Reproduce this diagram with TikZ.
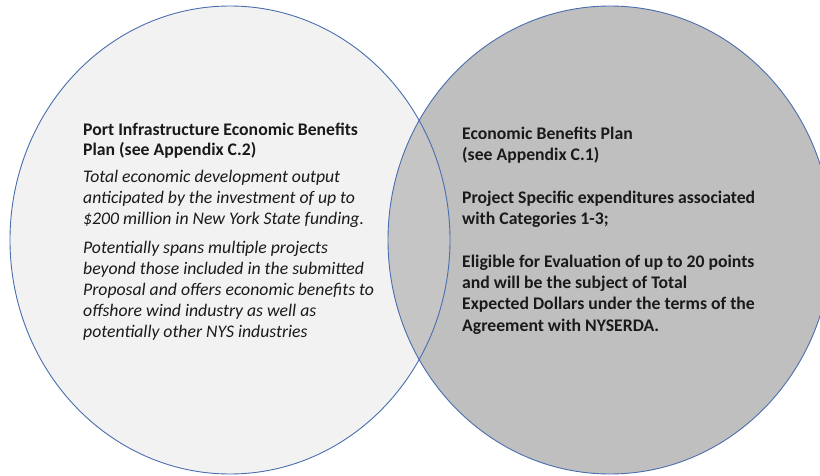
\documentclass[tikz,border=0pt]{standalone}
\usepackage{fontspec}
\setmainfont{Carlito}
\definecolor{edgeblue}{HTML}{4A6FAE}
\definecolor{leftfill}{HTML}{F2F2F2}
\definecolor{rightfill}{HTML}{BFBFBF}
\definecolor{overlapfill}{HTML}{C5C5C5}
\definecolor{txt}{HTML}{1A1A1A}
\tikzset{
  venn/.style={draw=edgeblue, line width=0.9pt},
  ln/.style={anchor=base west, inner sep=0pt, text=txt,
    font=\fontsize{17.7}{21}\selectfont},
  lb/.style={ln, font=\fontsize{17.7}{21}\selectfont\bfseries},
  li/.style={ln, font=\fontsize{17.7}{21}\selectfont\itshape},
}
\begin{document}
\begin{tikzpicture}[x=1pt,y=-1pt]
\useasboundingbox (0,0) rectangle (820,476);
\clip (0,0) rectangle (820,476);
\fill[white] (0,0) rectangle (820,476);
% circles
\fill[leftfill] (230,240) ellipse [x radius=220pt, y radius=234pt];
\fill[rightfill] (610,240) ellipse [x radius=222pt, y radius=234pt];
\begin{scope}
  \clip (230,240) ellipse [x radius=220pt, y radius=234pt];
  \fill[overlapfill] (610,240) ellipse [x radius=222pt, y radius=234pt];
\end{scope}
\draw[venn] (230,240) ellipse [x radius=220pt, y radius=234pt];
\draw[venn] (610,240) ellipse [x radius=222pt, y radius=234pt];
% left text
\node[lb] (lt1) at (83,136) {Port Infrastructure Economic Benefits};
\node[lb] (lt2) at (83,156) {Plan (see Appendix C.2)};
\node[li] (la1) at (83,183) {Total economic development output};
\node[li] (la2) at (83,204) {anticipated by the investment of up to};
\node[li] (la3) at (83,225) {\$200 million in New York State funding.};
\node[li] (lb1) at (83,253) {Potentially spans multiple projects};
\node[li] (lb2) at (83,274) {beyond those included in the submitted};
\node[li] (lb3) at (83,295) {Proposal and offers economic benefits to};
\node[li] (lb4) at (83,316) {offshore wind industry as well as};
\node[li] (lb5) at (83,337) {potentially other NYS industries};
% right text
\node[lb] (rt1) at (462,140) {Economic Benefits Plan};
\node[lb] (rt2) at (462,161) {(see Appendix C.1)};
\node[lb] (ra1) at (462,204) {Project Specific expenditures associated};
\node[lb] (ra2) at (462,225) {with Categories 1-3;};
\node[lb] (rb1) at (462,267) {Eligible for Evaluation of up to 20 points};
\node[lb] (rb2) at (462,288) {and will be the subject of Total};
\node[lb] (rb3) at (462,309) {Expected Dollars under the terms of the};
\node[lb] (rb4) at (462,331) {Agreement with NYSERDA.};
\end{tikzpicture}
\end{document}
